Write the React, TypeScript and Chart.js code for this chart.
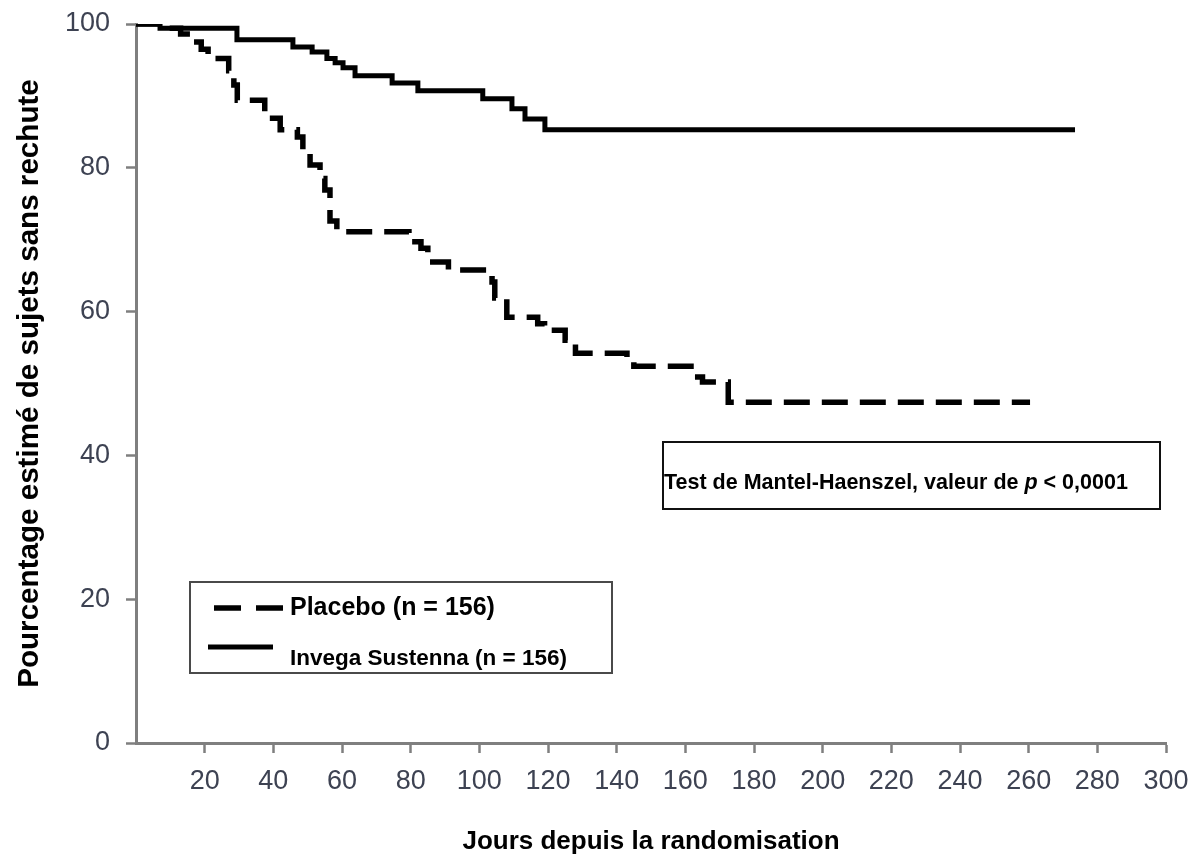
import React, { useEffect, useRef } from "react";
import { Chart, registerables } from "chart.js";

Chart.register(...registerables);

// ---- Data ----
const invegaDays = [0, 7, 29.4, 45.7, 51.3, 55.6, 58, 60.3, 63.8, 74.6, 82.1, 101, 109.5, 113.3, 119.1, 273.5];
const invegaValues = [100, 99.4, 97.8, 96.8, 96.1, 95.2, 94.6, 93.9, 92.8, 91.8, 90.7, 89.6, 88.2, 86.8, 85.3, 85.3];

const placeboDays = [0, 9, 13, 16, 19, 21, 27, 28.5, 29.5, 37.5, 38.5, 42, 47, 48.6, 50.7, 53.6, 55, 56.5, 58.5, 79.5, 83, 85, 91, 103.7, 104.5, 108, 117, 119, 125, 128, 143, 145, 162.8, 165, 172.5, 260.4];
const placeboValues = [100, 99.4, 98.6, 97.5, 96.5, 95.2, 93.5, 91.5, 89.4, 87.8, 86.9, 85.3, 84.3, 82.0, 80.4, 78.5, 76.9, 72.6, 71.1, 69.7, 68.8, 66.9, 65.8, 64.1, 61.9, 59.2, 58.3, 57.4, 56.0, 54.2, 53.0, 52.4, 50.9, 50.2, 47.4, 47.4];

const xTicks = [20, 40, 60, 80, 100, 120, 140, 160, 180, 200, 220, 240, 260, 280, 300];
const yTicks = [0, 20, 40, 60, 80, 100];

const placeboLabel = "Placebo (n = 156)";
const invegaLabel = "Invega Sustenna (n = 156)";
const xTitle = "Jours depuis la randomisation";
const yTitle = "Pourcentage estimé de sujets sans rechute";
const testTextA = "Test de Mantel-Haenszel, valeur de ";
const testTextP = "p";
const testTextB = " < 0,0001";

const FONT = "'Liberation Sans', Arial, Helvetica, sans-serif";
const AXIS_GREY = "#7f7f7f";
const TICK_TEXT = "#3d4252";
const DASH = [26, 12];

const annotationsPlugin = {
  id: "kmAnnotations",
  afterDraw(chart: any) {
    const ctx = chart.ctx as CanvasRenderingContext2D;
    ctx.save();
    // Legend box
    ctx.strokeStyle = "#4a4a4a";
    ctx.lineWidth = 2;
    ctx.strokeRect(190, 582, 422, 91);
    // dashed sample
    ctx.strokeStyle = "#000";
    ctx.lineWidth = 5.5;
    ctx.lineCap = "butt";
    ctx.setLineDash([27, 15]);
    ctx.beginPath();
    ctx.moveTo(214, 608);
    ctx.lineTo(285, 608);
    ctx.stroke();
    ctx.setLineDash([]);
    // solid sample
    ctx.lineWidth = 5;
    ctx.beginPath();
    ctx.moveTo(208, 647);
    ctx.lineTo(273, 647);
    ctx.stroke();
    ctx.fillStyle = "#000";
    ctx.textBaseline = "middle";
    ctx.textAlign = "left";
    ctx.font = `bold 25px ${FONT}`;
    ctx.fillText(placeboLabel, 290, 608);
    ctx.font = `bold 22.5px ${FONT}`;
    ctx.fillText(invegaLabel, 290, 659);

    // Test box
    ctx.strokeStyle = "#111";
    ctx.lineWidth = 2;
    ctx.strokeRect(663, 442, 497, 67);
    let x = 664;
    const y = 483;
    ctx.font = `bold 21.5px ${FONT}`;
    ctx.fillText(testTextA, x, y);
    x += ctx.measureText(testTextA).width;
    ctx.font = `italic bold 21.5px ${FONT}`;
    ctx.fillText(testTextP, x, y);
    x += ctx.measureText(testTextP).width;
    ctx.font = `bold 21.5px ${FONT}`;
    ctx.fillText(testTextB, x, y);
    ctx.restore();
  },
};

export default function App() {
  const canvasRef = useRef<HTMLCanvasElement | null>(null);

  useEffect(() => {
    if (!canvasRef.current) return;
    const chart = new Chart(canvasRef.current, {
      type: "line",
      data: {
        datasets: [
          {
            label: placeboLabel,
            data: placeboDays.map((d, i) => ({ x: d, y: placeboValues[i] })),
            borderColor: "#000",
            borderWidth: 5.5,
            borderDash: DASH,
            borderCapStyle: "butt",
            stepped: "before",
            pointRadius: 0,
            fill: false,
          },
          {
            label: invegaLabel,
            data: invegaDays.map((d, i) => ({ x: d, y: invegaValues[i] })),
            borderColor: "#000",
            borderWidth: 5,
            stepped: "before",
            pointRadius: 0,
            fill: false,
          },
        ],
      },
      options: {
        responsive: false,
        animation: false,
        layout: { padding: { left: 0, right: 27, top: 24, bottom: 0 } },
        plugins: {
          legend: { display: false },
          tooltip: { enabled: false },
        },
        scales: {
          x: {
            type: "linear",
            min: 0,
            max: 300,
            afterBuildTicks: (scale: any) => {
              scale.ticks = xTicks.map((v) => ({ value: v }));
            },
            afterFit: (scale: any) => {
              scale.height = 117;
              scale.paddingLeft = 0;
              scale.paddingRight = 0;
            },
            ticks: {
              color: TICK_TEXT,
              font: { family: FONT, size: 27 },
              padding: 12,
              maxRotation: 0,
              autoSkip: false,
            },
            grid: {
              drawOnChartArea: false,
              drawTicks: true,
              tickLength: 10,
              tickColor: AXIS_GREY,
              tickWidth: 2.5,
            },
            border: { color: AXIS_GREY, width: 3 },
            title: {
              display: true,
              text: xTitle,
              color: "#000",
              font: { family: FONT, size: 26, weight: "bold" },
              padding: { top: 0, bottom: 3 },
            },
          },
          y: {
            type: "linear",
            min: 0,
            max: 100,
            afterBuildTicks: (scale: any) => {
              scale.ticks = yTicks.map((v) => ({ value: v }));
            },
            afterFit: (scale: any) => {
              scale.width = 136;
              scale.paddingTop = 0;
              scale.paddingBottom = 0;
            },
            ticks: {
              color: TICK_TEXT,
              font: { family: FONT, size: 27 },
              padding: 16,
            },
            grid: {
              drawOnChartArea: false,
              drawTicks: true,
              tickLength: 10,
              tickColor: AXIS_GREY,
              tickWidth: 2.5,
            },
            border: { color: AXIS_GREY, width: 3 },
            title: {
              display: true,
              text: yTitle,
              color: "#000",
              font: { family: FONT, size: 29.6, weight: "bold" },
              padding: { top: 12, bottom: 0 },
            },
          },
        },
      },
      plugins: [annotationsPlugin],
    } as any);
    return () => chart.destroy();
  }, []);

  return (
    <div style={{ position: "fixed", left: 0, top: 0, width: 1193, height: 860, background: "#fff" }}>
      <canvas ref={canvasRef} width={1193} height={860} style={{ display: "block" }} />
    </div>
  );
}
